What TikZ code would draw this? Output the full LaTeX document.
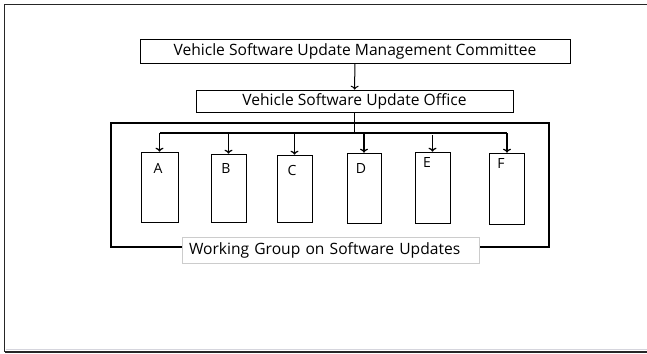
\documentclass[tikz,border=0pt]{standalone}
\usepackage{fontspec}
\setmainfont{Open Sans}
\usetikzlibrary{calc,arrows.meta}

\begin{document}
\begin{tikzpicture}
[
	x=1pt,y=-1pt,
	headbox/.style={draw,semithick,inner sep=0pt,font=\fontsize{15.6}{18}\selectfont},
	unitbox/.style={draw,semithick,inner sep=0pt,minimum width=35pt,minimum height=69pt},
	unitlabel/.style={inner sep=0pt,font=\fontsize{14}{16}\selectfont},
	arr/.style={-{To[length=4pt,width=8pt]},line width=1.2pt}
]

	% page frame
	\useasboundingbox (0,0) rectangle (647,353);
	\draw[black!85,line width=1.5pt] (647,4.5) -- (4.5,4.5) -- (4.5,352);
	\draw[black!85,line width=1.5pt] (4.5,352) -- (647,352);
	\draw[blue!10!gray!30,line width=1pt] (6,349.5) -- (647,349.5);

	% top boxes
	\node[headbox,minimum width=430pt,minimum height=24pt] (committee) at (355,51) {Vehicle Software Update Management Committee};
	\node[headbox,minimum width=317pt,minimum height=22pt] (office) at (354.5,101) {Vehicle Software Update Office};
	\draw[arr,line width=1pt] (committee) -- (office);

	% working group frame
	\draw[line width=1.8pt] (111,123) rectangle (549,247);

	% units
	\node[unitbox,minimum width=37pt,minimum height=70pt] (A) at (159.5,187) {};
	\node[unitbox,minimum height=68pt] (B) at (228.5,188) {};
	\node[unitbox,minimum height=67pt] (C) at (294.5,188.5) {};
	\node[unitbox,minimum width=34pt,minimum height=70pt] (D) at (364,188) {};
	\node[unitbox,minimum height=71pt] (E) at (432.5,187.5) {};
	\node[unitbox,minimum height=71pt] (F) at (507,188.5) {};

	\node[unitlabel] (lA) at (158,168) {A};
	\node[unitlabel] (lB) at (226,169) {B};
	\node[unitlabel] (lC) at (292,170) {C};
	\node[unitlabel] (lD) at (361,169) {D};
	\node[unitlabel] (lE) at (427,163) {E};
	\node[unitlabel] (lF) at (501,164) {F};

	% bus
	\coordinate (bus) at (354.5,133);
	\draw[line width=1.8pt] (office) -- (bus);
	\draw[line width=1.3pt] (A.north |- bus) -- (F.north |- bus);
	\foreach \u in {A,B,D,F} {
		\draw[arr] (\u.north |- bus) -- (\u.north);
	}
	\draw[arr] ($(C.north |- bus)+(0,1)$) -- (C.north);
	\draw[arr] ($(E.north |- bus)+(0,2)$) -- (E.north);

	% working group label
	\node[draw=black!20,fill=white,inner sep=0pt,minimum height=26pt,text width=283pt,inner xsep=7pt,align=left,font=\fontsize{15.6}{18}\selectfont] (wg) at (330.5,250) {Working Group on Software Updates};

\end{tikzpicture}
\end{document}
